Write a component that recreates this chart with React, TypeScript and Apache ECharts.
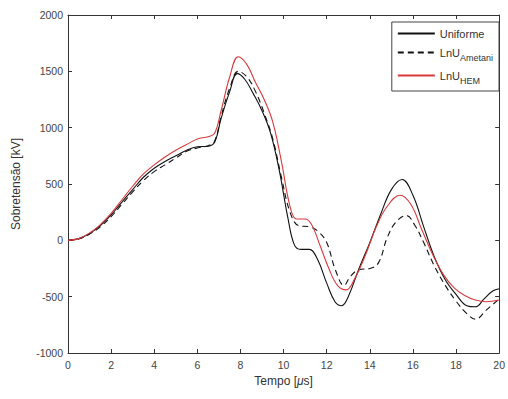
import React, { useEffect, useRef } from "react";
import * as echarts from "echarts";

const xTicks = [0, 2, 4, 6, 8, 10, 12, 14, 16, 18, 20];
const yTicks = [-1000, -500, 0, 500, 1000, 1500, 2000];

const uniforme: [number, number][] = [
  [0, 0], [0.5, 15], [1, 60], [1.5, 130], [2, 225], [2.5, 340], [3, 450], [3.5, 560], [4, 640],
  [4.5, 700], [5, 750], [5.5, 800], [6, 830], [6.5, 835], [6.8, 870], [7.1, 1080], [7.5, 1320],
  [7.85, 1480], [8.2, 1430], [8.6, 1300], [9, 1150], [9.4, 950], [9.8, 620], [10.2, 200],
  [10.5, -40], [10.8, -80], [11.2, -80], [11.6, -180], [12, -380], [12.4, -550], [12.7, -580],
  [13, -500], [13.5, -250], [14, -20], [14.5, 230], [15, 450], [15.5, 540], [16, 400],
  [16.5, 120], [17, -150], [17.5, -350], [18, -480], [18.5, -580], [18.9, -590], [19.3, -520],
  [19.7, -450], [20, -430],
];

const ametani: [number, number][] = [
  [0, 0], [0.5, 12], [1, 55], [1.5, 120], [2, 210], [2.5, 320], [3, 430], [3.5, 530], [4, 610],
  [4.5, 670], [5, 730], [5.5, 790], [6, 820], [6.5, 840], [6.8, 880], [7.1, 1100], [7.5, 1350],
  [7.9, 1500], [8.3, 1450], [8.7, 1320], [9.1, 1130], [9.5, 900], [9.9, 560], [10.3, 250],
  [10.7, 130], [11.2, 120], [11.6, 80], [12, -20], [12.4, -260], [12.8, -400], [13.1, -320],
  [13.5, -260], [14, -250], [14.4, -200], [14.8, 20], [15.2, 160], [15.7, 220], [16.1, 130],
  [16.5, -20], [17, -230], [17.5, -400], [18, -540], [18.5, -650], [18.9, -700], [19.4, -620],
  [20, -520],
];

const hem: [number, number][] = [
  [0, 0], [0.5, 15], [1, 65], [1.5, 140], [2, 240], [2.5, 360], [3, 480], [3.5, 590], [4, 670],
  [4.5, 740], [5, 800], [5.5, 850], [6, 900], [6.5, 920], [6.8, 950], [7.1, 1150], [7.5, 1450],
  [7.9, 1630], [8.3, 1560], [8.7, 1400], [9.1, 1250], [9.5, 1050], [9.9, 700], [10.3, 300],
  [10.6, 190], [11, 190], [11.3, 140], [11.7, -50], [12.1, -250], [12.5, -400], [12.9, -440],
  [13.3, -340], [13.8, -130], [14.3, 120], [14.8, 300], [15.4, 400], [15.9, 320], [16.4, 100],
  [16.9, -120], [17.4, -300], [17.9, -420], [18.4, -490], [18.9, -530], [19.4, -545], [20, -530],
];

const seriesNames = ["Uniforme", "LnU_Ametani", "LnU_HEM"];

export default function App() {
  const ref = useRef<HTMLDivElement>(null);
  useEffect(() => {
    if (!ref.current) return;
    const chart = echarts.init(ref.current, undefined, { renderer: "svg" });
    const axisColor = "#333";
    const font = "Liberation Sans, Arial, sans-serif";
    const line = { show: true, onZero: false, lineStyle: { color: axisColor, width: 1 } };
    const tick = { show: true, inside: true, length: 4, lineStyle: { color: axisColor } };
    const commonX = {
      type: "value" as const,
      min: 0,
      max: 20,
      interval: 2,
      splitLine: { show: false },
      axisLine: line,
      axisTick: tick,
    };
    const commonY = {
      type: "value" as const,
      min: -1000,
      max: 2000,
      interval: 500,
      splitLine: { show: false },
      axisLine: line,
      axisTick: tick,
    };
    chart.setOption({
      animation: false,
      backgroundColor: "#fff",
      textStyle: { fontFamily: font },
      grid: { left: 68, right: 7, top: 15, bottom: 46, containLabel: false },
      xAxis: [
        {
          ...commonX,
          position: "bottom",
          name: "Tempo [{mu|μ}s]",
          nameLocation: "middle",
          nameGap: 22,
          nameTextStyle: {
            color: "#333",
            fontSize: 12,
            fontFamily: font,
            rich: { mu: { fontStyle: "italic", fontSize: 12, color: "#333", fontFamily: font } },
          },
          axisLabel: { color: "#444", fontSize: 10.5, margin: 6, fontFamily: font,
            formatter: (v: number) => (xTicks.includes(v) ? String(v) : "") },
        },
        {
          ...commonX,
          position: "top",
          axisLabel: { show: false },
        },
      ],
      yAxis: [
        {
          ...commonY,
          position: "left",
          name: "Sobretensão [kV]",
          nameLocation: "middle",
          nameGap: 46,
          nameTextStyle: { color: "#333", fontSize: 12, fontFamily: font },
          axisLabel: { color: "#444", fontSize: 10.5, margin: 5, fontFamily: font,
            formatter: (v: number) => (yTicks.includes(v) ? String(v) : "") },
        },
        {
          ...commonY,
          position: "right",
          axisLabel: { show: false },
        },
      ],
      legend: {
        orient: "vertical",
        right: 9,
        top: 22,
        align: "left",
        itemWidth: 37,
        itemHeight: 10,
        itemGap: 4,
        padding: [6, 6, 6, 5],
        borderColor: "#444",
        borderWidth: 1,
        backgroundColor: "#fff",
        data: seriesNames,
        itemStyle: { opacity: 0 },
        formatter: (name: string) => {
          if (name === "Uniforme") return "{n|Uniforme}";
          const [a, b] = name.split("_");
          return `{n|${a}}{s|${b}}`;
        },
        textStyle: {
          fontFamily: font,
          color: "#333",
          rich: {
            n: { fontSize: 11, color: "#333", fontFamily: font, lineHeight: 12 },
            s: { fontSize: 9, color: "#333", fontFamily: font, padding: [10, 0, 0, 0], lineHeight: 12 },
          },
        },
      },
      series: [
        {
          name: "Uniforme",
          type: "line",
          data: uniforme,
          smooth: 0.4,
          showSymbol: false,
          symbol: "none",
          lineStyle: { color: "#111", width: 1.1 },
          itemStyle: { color: "#111" },
          z: 3,
        },
        {
          name: "LnU_Ametani",
          type: "line",
          data: ametani,
          smooth: 0.4,
          showSymbol: false,
          symbol: "none",
          lineStyle: { color: "#111", width: 1.1, type: [6, 4] },
          itemStyle: { color: "#111" },
          z: 2,
        },
        {
          name: "LnU_HEM",
          type: "line",
          data: hem,
          smooth: 0.4,
          showSymbol: false,
          symbol: "none",
          lineStyle: { color: "#d9393b", width: 1.1 },
          itemStyle: { color: "#d9393b" },
          z: 4,
        },
      ],
    });
    return () => chart.dispose();
  }, []);
  return (
    <div
      ref={ref}
      style={{ position: "fixed", left: 0, top: 0, width: 508, height: 399, background: "#fff" }}
    />
  );
}
